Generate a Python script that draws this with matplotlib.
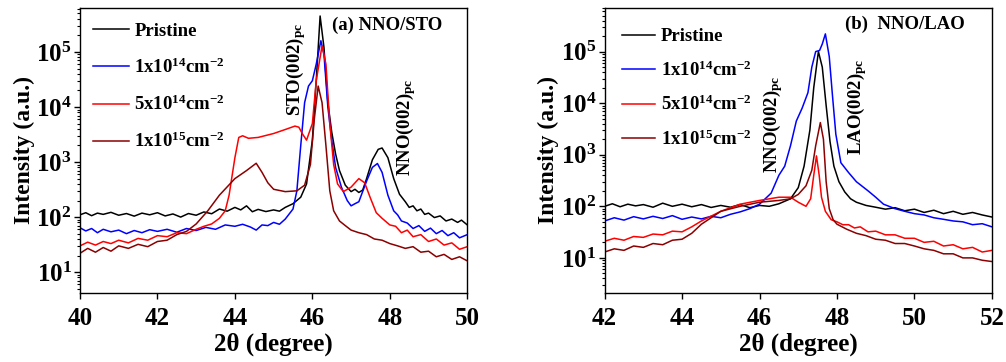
import matplotlib
matplotlib.use("Agg")
import matplotlib.pyplot as plt
import numpy as np
from matplotlib.ticker import LogLocator, LogFormatterMathtext, NullFormatter

plt.rcParams['font.family'] = ['Liberation Serif']
plt.rcParams['font.weight'] = 'bold'
plt.rcParams['mathtext.fontset'] = 'custom'
plt.rcParams['mathtext.rm'] = 'Liberation Serif:bold'
plt.rcParams['mathtext.it'] = 'Liberation Serif:bold'
plt.rcParams['mathtext.bf'] = 'Liberation Serif:bold'

labels = ['Pristine', r'1x10$^{14}$cm$^{-2}$', r'5x10$^{14}$cm$^{-2}$', r'1x10$^{15}$cm$^{-2}$']
colors = ['#000000', '#0000ff', '#ff0000', '#8b0000']

# ---- Panel (a) NNO/STO ----
a_pr_x = [40.0, 40.15, 40.3, 40.45, 40.6, 40.8, 41.0, 41.2, 41.4, 41.6, 41.8, 42.0, 42.2, 42.4, 42.6, 42.8, 43.0, 43.2, 43.4, 43.6, 43.8, 44.0, 44.15, 44.3, 44.45, 44.6, 44.8, 45.0, 45.15, 45.3, 45.5, 45.7, 45.85, 46.0, 46.1, 46.2, 46.3, 46.4, 46.5, 46.6, 46.7, 46.85, 47.0, 47.1, 47.2, 47.3, 47.4, 47.55, 47.7, 47.8, 47.95, 48.1, 48.25, 48.4, 48.5, 48.6, 48.7, 48.8, 48.9, 49.0, 49.15, 49.3, 49.45, 49.6, 49.75, 49.85, 50.0]
a_pr_y = [110, 120, 106, 118, 112, 122, 108, 116, 104, 118, 110, 120, 105, 114, 100, 116, 108, 124, 115, 140, 128, 150, 135, 160, 125, 138, 126, 135, 128, 150, 175, 230, 400, 2500, 3.0e4, 4.5e5, 1.2e5, 1.2e4, 3500, 1400, 700, 380, 290, 320, 280, 310, 500, 1100, 1700, 1800, 1200, 500, 260, 190, 150, 160, 130, 140, 112, 118, 98, 105, 85, 92, 80, 88, 72]

a_1e14_x = [40.0, 40.15, 40.3, 40.45, 40.6, 40.8, 41.0, 41.2, 41.4, 41.6, 41.8, 42.0, 42.25, 42.5, 42.75, 43.0, 43.25, 43.5, 43.75, 44.0, 44.2, 44.4, 44.55, 44.7, 44.85, 45.0, 45.15, 45.3, 45.5, 45.6, 45.7, 45.8, 45.9, 46.0, 46.1, 46.22, 46.3, 46.4, 46.5, 46.6, 46.75, 46.9, 47.0, 47.1, 47.2, 47.4, 47.55, 47.68, 47.8, 47.95, 48.1, 48.2, 48.3, 48.45, 48.6, 48.75, 48.9, 49.05, 49.2, 49.35, 49.5, 49.65, 49.8, 50.0]
a_1e14_y = [64, 56, 62, 52, 60, 54, 58, 50, 57, 52, 59, 55, 60, 53, 62, 57, 65, 60, 72, 68, 74, 66, 58, 72, 70, 80, 74, 92, 140, 300, 2000, 1.2e4, 2.4e4, 3.0e4, 6.0e4, 1.6e5, 9.0e4, 1.0e4, 2500, 800, 350, 200, 160, 175, 190, 450, 800, 940, 650, 250, 130, 110, 85, 78, 62, 70, 55, 63, 50, 57, 46, 52, 42, 48]

a_5e14_x = [40.0, 40.2, 40.4, 40.6, 40.8, 41.0, 41.25, 41.5, 41.75, 42.0, 42.25, 42.5, 42.75, 43.0, 43.2, 43.4, 43.6, 43.75, 43.85, 44.0, 44.1, 44.2, 44.35, 44.6, 45.0, 45.3, 45.55, 45.65, 45.75, 45.85, 46.0, 46.1, 46.25, 46.35, 46.45, 46.55, 46.65, 46.8, 47.0, 47.2, 47.35, 47.5, 47.65, 47.8, 48.0, 48.15, 48.3, 48.45, 48.6, 48.8, 49.0, 49.2, 49.4, 49.6, 49.8, 50.0]
a_5e14_y = [30, 35, 31, 36, 33, 38, 34, 41, 38, 46, 44, 52, 50, 60, 68, 75, 95, 130, 250, 1200, 2800, 3000, 2700, 2800, 3300, 3900, 4500, 4300, 3200, 2500, 5000, 3.0e4, 1.3e5, 6.0e4, 5000, 900, 400, 290, 350, 500, 420, 220, 120, 95, 72, 68, 52, 58, 44, 48, 36, 40, 31, 34, 26, 29]

a_1e15_x = [40.0, 40.2, 40.4, 40.6, 40.8, 41.0, 41.25, 41.5, 41.75, 42.0, 42.25, 42.5, 42.75, 43.0, 43.3, 43.6, 44.0, 44.3, 44.55, 44.7, 44.85, 45.0, 45.3, 45.6, 45.8, 45.95, 46.05, 46.15, 46.25, 46.35, 46.45, 46.55, 46.7, 46.85, 47.0, 47.2, 47.4, 47.6, 47.8, 48.0, 48.2, 48.4, 48.6, 48.8, 49.0, 49.2, 49.4, 49.6, 49.8, 50.0]
a_1e15_y = [22, 27, 23, 28, 24, 30, 27, 32, 29, 36, 38, 48, 55, 75, 130, 250, 500, 700, 950, 650, 420, 320, 290, 300, 380, 900, 6000, 2.4e4, 1.2e4, 2000, 300, 130, 85, 70, 58, 52, 48, 40, 38, 33, 30, 27, 29, 23, 24, 19, 21, 17, 19, 16]

# ---- Panel (b) NNO/LAO ----
b_pr_x = [42.0, 42.2, 42.4, 42.6, 42.8, 43.0, 43.25, 43.5, 43.75, 44.0, 44.25, 44.5, 44.75, 45.0, 45.25, 45.5, 45.75, 46.0, 46.25, 46.5, 46.8, 47.0, 47.15, 47.3, 47.4, 47.52, 47.62, 47.72, 47.82, 47.92, 48.05, 48.2, 48.35, 48.5, 48.75, 49.0, 49.25, 49.5, 49.75, 50.0, 50.25, 50.5, 50.75, 51.0, 51.25, 51.5, 51.75, 52.0]
b_pr_y = [100, 112, 98, 110, 102, 108, 96, 115, 100, 110, 98, 108, 95, 104, 96, 108, 94, 104, 100, 112, 140, 230, 600, 3000, 2.0e4, 1.0e5, 5.0e4, 9000, 1800, 600, 300, 190, 140, 120, 104, 96, 88, 94, 82, 88, 76, 84, 72, 80, 70, 76, 68, 62]

b_1e14_x = [42.0, 42.25, 42.5, 42.75, 43.0, 43.25, 43.5, 43.75, 44.0, 44.25, 44.5, 44.75, 45.0, 45.25, 45.5, 45.75, 46.0, 46.3, 46.5, 46.65, 46.8, 46.95, 47.1, 47.25, 47.35, 47.45, 47.55, 47.62, 47.7, 47.8, 47.88, 47.97, 48.1, 48.3, 48.5, 48.8, 49.0, 49.2, 49.5, 49.75, 50.0, 50.25, 50.5, 50.75, 51.0, 51.25, 51.5, 51.75, 52.0]
b_1e14_y = [52, 60, 54, 63, 57, 64, 58, 66, 56, 62, 57, 64, 60, 70, 78, 90, 110, 180, 400, 600, 1500, 4500, 8000, 1.6e4, 5.0e4, 1.0e5, 1.05e5, 1.4e5, 2.2e5, 8.0e4, 1.5e4, 2500, 700, 450, 300, 200, 150, 110, 90, 80, 72, 68, 60, 56, 52, 50, 44, 46, 40]

b_5e14_x = [42.0, 42.25, 42.5, 42.75, 43.0, 43.25, 43.5, 43.75, 44.0, 44.25, 44.5, 45.0, 45.5, 46.0, 46.5, 46.8, 47.0, 47.2, 47.32, 47.4, 47.47, 47.54, 47.6, 47.7, 47.85, 48.0, 48.15, 48.3, 48.45, 48.6, 48.8, 49.0, 49.25, 49.5, 49.75, 50.0, 50.25, 50.5, 50.75, 51.0, 51.25, 51.5, 51.75, 52.0]
b_5e14_y = [21, 24, 22, 26, 25, 29, 28, 33, 32, 40, 52, 80, 110, 130, 150, 150, 120, 100, 140, 400, 950, 400, 150, 80, 55, 50, 44, 44, 38, 40, 32, 33, 28, 28, 24, 24, 20, 21, 17, 18, 15, 16, 13, 14]

b_1e15_x = [42.0, 42.25, 42.5, 42.75, 43.0, 43.25, 43.5, 43.75, 44.0, 44.25, 44.5, 45.0, 45.5, 46.0, 46.5, 46.8, 47.0, 47.2, 47.35, 47.45, 47.57, 47.65, 47.72, 47.8, 47.9, 48.0, 48.25, 48.5, 48.75, 49.0, 49.25, 49.5, 49.75, 50.0, 50.25, 50.5, 50.75, 51.0, 51.25, 51.5, 51.75, 52.0]
b_1e15_y = [13, 15, 14, 17, 16, 19, 18, 22, 23, 30, 45, 80, 100, 120, 130, 140, 170, 250, 500, 1500, 4200, 2000, 300, 90, 55, 45, 36, 30, 27, 23, 22, 19, 19, 17, 15, 14, 12, 12, 10, 10, 9, 8.5]

panel_a = [(a_pr_x, a_pr_y), (a_1e14_x, a_1e14_y), (a_5e14_x, a_5e14_y), (a_1e15_x, a_1e15_y)]
panel_b = [(b_pr_x, b_pr_y), (b_1e14_x, b_1e14_y), (b_5e14_x, b_5e14_y), (b_1e15_x, b_1e15_y)]

fig = plt.figure(figsize=(10.06, 3.62), dpi=100)
ax1 = fig.add_axes([0.0795, 0.191, 0.385, 0.787])
ax2 = fig.add_axes([0.601, 0.191, 0.385, 0.787])

def style(ax, xlim, ylim, xticks):
    ax.set_yscale('log')
    ax.set_xlim(*xlim)
    ax.set_ylim(*ylim)
    ax.set_xticks(xticks)
    ax.set_yticks([10, 100, 1000, 1e4, 1e5])
    ax.yaxis.set_major_formatter(LogFormatterMathtext())
    ax.yaxis.set_minor_locator(LogLocator(base=10, subs=np.arange(2, 10), numticks=20))
    ax.yaxis.set_minor_formatter(NullFormatter())
    ax.tick_params(axis='both', which='major', direction='out', length=4, width=1.0, labelsize=18, top=False, right=False)
    ax.tick_params(axis='x', which='major', pad=6)
    ax.tick_params(axis='y', which='major', pad=2)
    ax.tick_params(axis='y', which='minor', direction='out', length=2, width=0.8, right=False)
    ax.tick_params(axis='x', which='minor', bottom=False)
    for lab in ax.get_xticklabels() + ax.get_yticklabels():
        lab.set_fontweight('bold')
    for s in ax.spines.values():
        s.set_linewidth(1.0)
    ax.set_xlabel('2θ (degree)', fontsize=18, fontweight='bold', labelpad=2)
    ax.set_ylabel('Intensity (a.u.)', fontsize=17, fontweight='bold', labelpad=1)

for ax, data in [(ax1, panel_a), (ax2, panel_b)]:
    for (x, y), c, lab in zip(data, colors, labels):
        ax.plot(x, y, color=c, lw=1.1, label=lab)

style(ax1, (40, 50), (4.2, 6.3e5), [40, 42, 44, 46, 48, 50])
style(ax2, (42, 52), (2.1, 7.0e5), [42, 44, 46, 48, 50, 52])

for ax, anchor, hl, ls in [(ax1, (0.0, 0.995), 1.9, 0.95), (ax2, (0.01, 0.975), 1.8, 0.8)]:
    leg = ax.legend(loc='upper left', frameon=False, fontsize=13.5, handlelength=hl,
                    handletextpad=0.3, labelspacing=ls, borderaxespad=0.3,
                    bbox_to_anchor=anchor)
    for t in leg.get_texts():
        t.set_fontweight('bold')

ax1.text(46.5, 3.1e5, '(a) NNO/STO', fontsize=13.5, fontweight='bold', va='center', ha='left')
ax1.text(45.58, 7000, r'STO(002)$_{\mathrm{pc}}$', rotation=90, fontsize=13.5, fontweight='bold', va='bottom', ha='center')
ax1.text(48.42, 550, r'NNO(002)$_{\mathrm{pc}}$', rotation=90, fontsize=13.5, fontweight='bold', va='bottom', ha='center')

ax2.text(48.2, 3.3e5, '(b)  NNO/LAO', fontsize=13.5, fontweight='bold', va='center', ha='left')
ax2.text(46.34, 450, r'NNO(002)$_{\mathrm{pc}}$', rotation=90, fontsize=13.5, fontweight='bold', va='bottom', ha='center')
ax2.text(48.52, 1000, r'LAO(002)$_{\mathrm{pc}}$', rotation=90, fontsize=13.5, fontweight='bold', va='bottom', ha='center')

fig.savefig('out.png', dpi=100)
